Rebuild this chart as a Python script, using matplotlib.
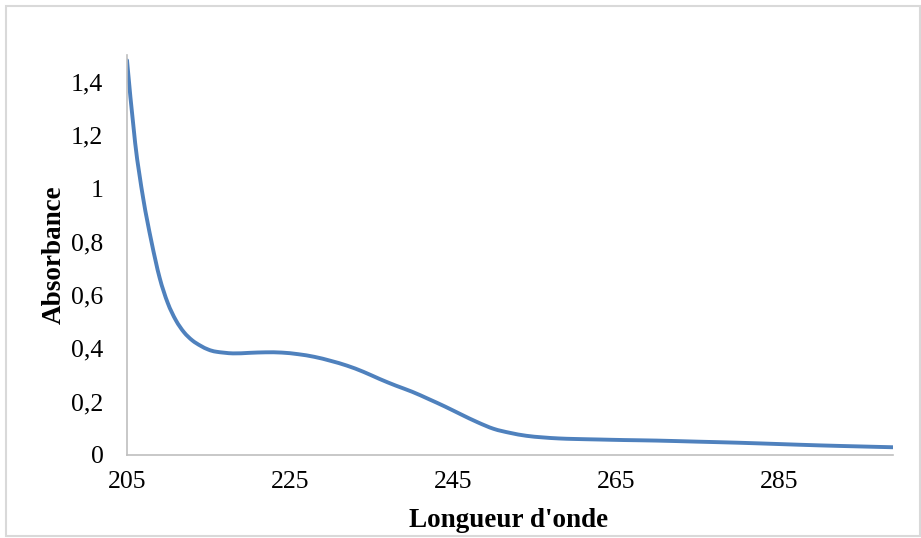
import matplotlib
matplotlib.use("Agg")
import matplotlib.pyplot as plt
import numpy as np
from matplotlib.patches import Rectangle, PathPatch
from matplotlib.path import Path

# spectre d'absorbance
wavelength = [205, 206, 207, 208, 209, 210, 211, 212, 213, 214, 215, 216, 218, 220,
              222, 224, 226, 228, 230, 232, 234, 236, 238, 240, 242, 244, 246, 248,
              250, 252, 254, 256, 258, 260, 263, 266, 270, 275, 280, 285, 290, 295, 299]
absorbance = [1.48, 1.17, 0.96, 0.80, 0.665, 0.57, 0.505, 0.46, 0.43, 0.41, 0.395, 0.387,
              0.381, 0.383, 0.385, 0.384, 0.378, 0.368, 0.353, 0.335, 0.312, 0.285, 0.26,
              0.237, 0.21, 0.182, 0.152, 0.123, 0.098, 0.083, 0.072, 0.066, 0.062, 0.060,
              0.058, 0.056, 0.054, 0.050, 0.046, 0.041, 0.036, 0.032, 0.029]
x_ticks = [205, 225, 245, 265, 285]
y_ticks = [0, 0.2, 0.4, 0.6, 0.8, 1, 1.2, 1.4]
y_labels = ['0', '0,2', '0,4', '0,6', '0,8', '1', '1,2', '1,4']

plt.rcParams['font.family'] = 'Liberation Serif'


def smooth_path(x, y):
    # courbe lissée façon Excel (Catmull-Rom -> Bézier)
    p = np.column_stack([x, y]).astype(float)
    ext = np.vstack([p[0], p, p[-1]])
    verts = [p[0]]
    codes = [Path.MOVETO]
    for i in range(len(p) - 1):
        p0, p1, p2, p3 = ext[i], ext[i + 1], ext[i + 2], ext[i + 3]
        verts += [p1 + (p2 - p0) / 6, p2 - (p3 - p1) / 6, p2]
        codes += [Path.CURVE4] * 3
    return Path(verts, codes)


fig = plt.figure(figsize=(9.21, 5.38), dpi=100)
ax = fig.add_axes([0.1379, 0.1543, 0.8317, 0.7435])

ax.add_patch(PathPatch(smooth_path(wavelength, absorbance), facecolor='none',
                       edgecolor='#4F81BD', linewidth=2.8, capstyle='round', joinstyle='round'))

ax.set_xlim(205, 299)
ax.set_ylim(0, 1.5)
ax.set_xticks(x_ticks)
ax.set_xticklabels([str(t) for t in x_ticks], fontsize=18.5)
ax.set_yticks(y_ticks)
ax.set_yticklabels(y_labels, fontsize=18.5)
ax.tick_params(axis='both', length=0)
ax.tick_params(axis='y', pad=17)
ax.tick_params(axis='x', pad=11.5)

ax.set_xlabel("Longueur d'onde", fontsize=19.5, fontweight='bold', va='baseline')
ax.xaxis.set_label_coords(0.4987, -0.18)
ax.set_ylabel('Absorbance', fontsize=19.5, fontweight='bold', va='center')
ax.yaxis.set_label_coords(-0.095, 0.5)

for s in ['top', 'right']:
    ax.spines[s].set_visible(False)
for s in ['left', 'bottom']:
    ax.spines[s].set_color('#BFBFBF')
    ax.spines[s].set_linewidth(1.2)

# cadre autour du graphique
fig.patches.append(Rectangle((6 / 921, 2 / 538), 914 / 921, 530 / 538, transform=fig.transFigure,
                             fill=False, edgecolor='#D9D9D9', linewidth=1.5))

fig.savefig('out.png', dpi=100)
